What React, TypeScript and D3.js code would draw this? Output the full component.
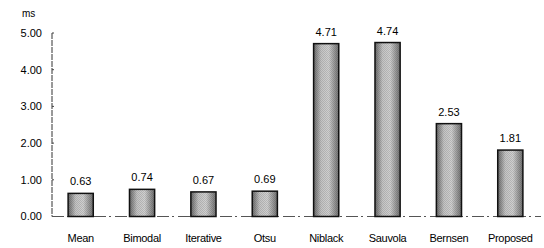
import React, { useEffect, useRef } from 'react'
import * as d3 from 'd3'

const categories = ['Mean', 'Bimodal', 'Iterative', 'Otsu', 'Niblack', 'Sauvola', 'Bernsen', 'Proposed']
const times = [0.63, 0.74, 0.67, 0.69, 4.71, 4.74, 2.53, 1.81]
const yTicks = [0, 1, 2, 3, 4, 5]
const unitLabel = 'ms'

const W = 544
const H = 248

export default function App() {
  const ref = useRef<SVGSVGElement | null>(null)

  useEffect(() => {
    const svg = d3.select(ref.current)
    svg.selectAll('*').remove()

    const font = 'Liberation Sans, Arial, sans-serif'
    const x = d3.scaleBand<string>().domain(categories).range([50, 541]).paddingInner(0.59).paddingOuter(0.295)
    const y = d3.scaleLinear().domain([0, 5]).range([216.5, 33])

    const defs = svg.append('defs')
    const grad = defs.append('linearGradient').attr('id', 'barGrad')
      .attr('x1', '0%').attr('x2', '100%').attr('y1', '0%').attr('y2', '0%')
    grad.append('stop').attr('offset', '0%').attr('stop-color', '#6a6a6a')
    grad.append('stop').attr('offset', '30%').attr('stop-color', '#c4c4c4')
    grad.append('stop').attr('offset', '60%').attr('stop-color', '#d0d0d0')
    grad.append('stop').attr('offset', '100%').attr('stop-color', '#707070')

    const pat = defs.append('pattern').attr('id', 'stipple')
      .attr('width', 2).attr('height', 2).attr('patternUnits', 'userSpaceOnUse')
    pat.append('rect').attr('width', 1).attr('height', 1).attr('fill', '#000').attr('opacity', 0.12)
    pat.append('rect').attr('x', 1).attr('y', 1).attr('width', 1).attr('height', 1).attr('fill', '#000').attr('opacity', 0.12)

    // y axis
    svg.append('line')
      .attr('x1', 52).attr('x2', 52).attr('y1', y(5)).attr('y2', y(0))
      .attr('stroke', '#333').attr('stroke-width', 1).attr('stroke-dasharray', '6,1')
    svg.selectAll('.ytick').data(yTicks).enter().append('line')
      .attr('x1', 52).attr('x2', 54).attr('y1', d => y(d)).attr('y2', d => y(d))
      .attr('stroke', '#444')
    svg.selectAll('.ylab').data(yTicks).enter().append('text')
      .attr('x', 42).attr('y', d => y(d)).attr('dy', '0.35em')
      .attr('text-anchor', 'end').attr('font-family', font).attr('font-size', 11)
      .text(d => d.toFixed(2))
    svg.append('text').attr('x', 22).attr('y', 17)
      .attr('font-family', font).attr('font-size', 10).text(unitLabel)

    // baseline
    svg.append('line')
      .attr('x1', 52).attr('x2', 541).attr('y1', y(0)).attr('y2', y(0))
      .attr('stroke', '#555').attr('stroke-width', 1).attr('stroke-dasharray', '12,3,2,4')

    const g = svg.selectAll('.bar').data(times).enter().append('g')
    g.append('rect')
      .attr('x', (d, i) => x(categories[i])!)
      .attr('y', d => y(d))
      .attr('width', x.bandwidth())
      .attr('height', d => y(0) - y(d))
      .attr('fill', 'url(#barGrad)')
    g.append('rect')
      .attr('x', (d, i) => x(categories[i])!)
      .attr('y', d => y(d))
      .attr('width', x.bandwidth())
      .attr('height', d => y(0) - y(d))
      .attr('fill', 'url(#stipple)')
      .attr('stroke', '#111').attr('stroke-width', 1.5)
    g.append('text')
      .attr('x', (d, i) => x(categories[i])! + x.bandwidth() / 2)
      .attr('y', d => y(d) - 8)
      .attr('text-anchor', 'middle').attr('font-family', font).attr('font-size', 11)
      .text(d => d.toFixed(2))

    svg.selectAll('.xlab').data(categories).enter().append('text')
      .attr('x', d => x(d)! + x.bandwidth() / 2)
      .attr('y', 242)
      .attr('text-anchor', 'middle').attr('font-family', font).attr('font-size', 11)
      .attr('letter-spacing', -0.3)
      .text(d => d)
  }, [])

  return (
    <svg ref={ref} width={W} height={H}
      style={{ position: 'absolute', left: 0, top: 0, background: '#fff' }} />
  )
}
